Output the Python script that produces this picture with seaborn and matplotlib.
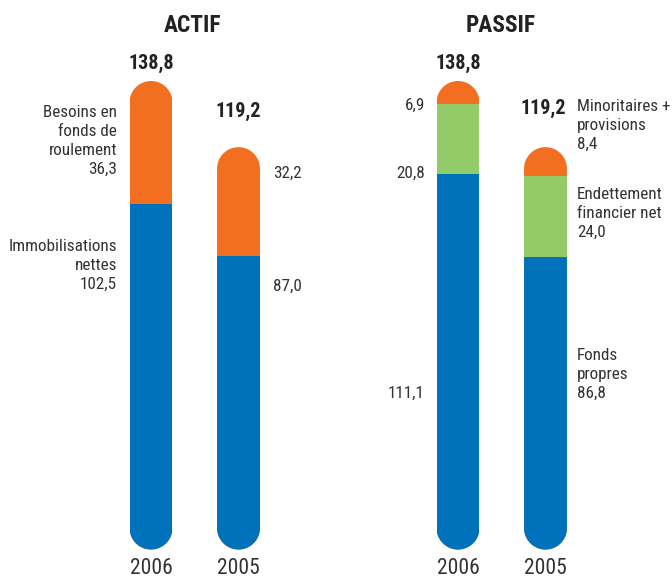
import numpy as np
import matplotlib
matplotlib.use('Agg')
import matplotlib.pyplot as plt
import seaborn as sns
from matplotlib.patches import PathPatch
from matplotlib.path import Path
from matplotlib.transforms import IdentityTransform

# ---- data ----
years = ['2006', '2005']
actif_immobilisations = [102.5, 87.0]
actif_bfr = [36.3, 32.2]
passif_fonds_propres = [111.1, 86.8]
passif_endettement = [20.8, 24.0]
passif_minoritaires = [6.9, 8.4]
totals = [138.8, 119.2]

BLUE = '#0071BB'
ORANGE = '#F26F21'
GREEN = '#93CB69'
TXT = '#333333'

sns.set_theme(style='white')
plt.rcParams['font.family'] = ['Roboto Condensed', 'DejaVu Sans']

W, H = 672, 580
fig = plt.figure(figsize=(W / 100, H / 100), dpi=100)
BASE, TOP = 549.5, 81.0


def axrect(left_px):
    return [left_px / W, (H - BASE) / H, 175 / W, (BASE - TOP) / H]


ax1 = fig.add_axes(axrect(107.25))
ax2 = fig.add_axes(axrect(414.25))
BW = 0.49


def capsule(x0, y0, x1, y1, n=60):
    r = (x1 - x0) / 2
    cx = (x0 + x1) / 2
    t_top = np.linspace(0, np.pi, n)
    t_bot = np.linspace(np.pi, 2 * np.pi, n)
    top = np.column_stack([cx + r * np.cos(t_top), y1 - r + r * np.sin(t_top)])
    bot = np.column_stack([cx + r * np.cos(t_bot), y0 + r + r * np.sin(t_bot)])
    verts = np.vstack([top, bot, top[:1]])
    codes = [Path.MOVETO] + [Path.LINETO] * (len(verts) - 2) + [Path.CLOSEPOLY]
    return Path(verts, codes)


def stacked(ax, layers, colors):
    cum = np.zeros(len(years))
    cums = []
    for vals in layers:
        cum = cum + np.array(vals)
        cums.append(cum.copy())
    for c, col in zip(reversed(cums), reversed(colors)):
        sns.barplot(x=years, y=c, order=years, color=col, width=BW,
                    saturation=1, errorbar=None, linewidth=0, ax=ax)
    ax.set_xlim(-0.5, 1.5)
    ax.set_ylim(0, max(totals))
    ax.set_yticks([])
    ax.set_xlabel('')
    ax.set_ylabel('')
    sns.despine(ax=ax, left=True, bottom=True)
    ax.tick_params(axis='x', length=0, pad=6, labelsize=15.5, labelcolor=TXT)
    # rounded ends via clip path (display coordinates)
    for i in range(len(years)):
        (dx0, dy0), (dx1, dy1) = ax.transData.transform(
            [(i - BW / 2, 0), (i + BW / 2, cums[-1][i])])
        clip = PathPatch(capsule(dx0, dy0, dx1, dy1), transform=IdentityTransform(),
                         facecolor='none', edgecolor='none')
        for p in ax.patches:
            if abs(p.get_x() + p.get_width() / 2 - i) < 0.3:
                p.set_clip_path(clip)


stacked(ax1, [actif_immobilisations, actif_bfr], [BLUE, ORANGE])
stacked(ax2, [passif_fonds_propres, passif_endettement, passif_minoritaires],
        [BLUE, GREEN, ORANGE])


def T(px, py, s, ha='center', size=12.3, bold=False, color=TXT):
    fig.text(px / W, 1 - py / H, s, ha=ha, va='center', fontsize=size,
             fontweight='bold' if bold else 'normal', color=color,
             linespacing=1.33)


def fmt(v):
    return f'{v:.1f}'.replace('.', ',')


# titles
T(193, 25, 'ACTIF', size=16.8, bold=True, color='#222222')
T(501, 25, 'PASSIF', size=16.8, bold=True, color='#222222')

# ACTIF
T(151, 63, fmt(totals[0]), size=14.5, bold=True, color='#222222')
T(238.5, 111, fmt(totals[1]), size=14.5, bold=True, color='#222222')
T(117, 141, 'Besoins en\nfonds de\nroulement\n' + fmt(actif_bfr[0]), ha='right')
T(117, 265.5, 'Immobilisations\nnettes\n' + fmt(actif_immobilisations[0]), ha='right')
T(273, 173, fmt(actif_bfr[1]), ha='left')
T(273, 286, fmt(actif_immobilisations[1]), ha='left')

# PASSIF
T(458, 63, fmt(totals[0]), size=14.5, bold=True, color='#222222')
T(543.5, 108, fmt(totals[1]), size=14.5, bold=True, color='#222222')
T(425, 105, fmt(passif_minoritaires[0]), ha='right')
T(425, 173, fmt(passif_endettement[0]), ha='right')
T(425, 393, fmt(passif_fonds_propres[0]), ha='right')
T(577, 125.5, 'Minoritaires +\nprovisions\n' + fmt(passif_minoritaires[1]), ha='left')
T(577, 213, 'Endettement\nfinancier net\n' + fmt(passif_endettement[1]), ha='left')
T(577, 374.5, 'Fonds\npropres\n' + fmt(passif_fonds_propres[1]), ha='left')

fig.savefig('out.png', dpi=100)
